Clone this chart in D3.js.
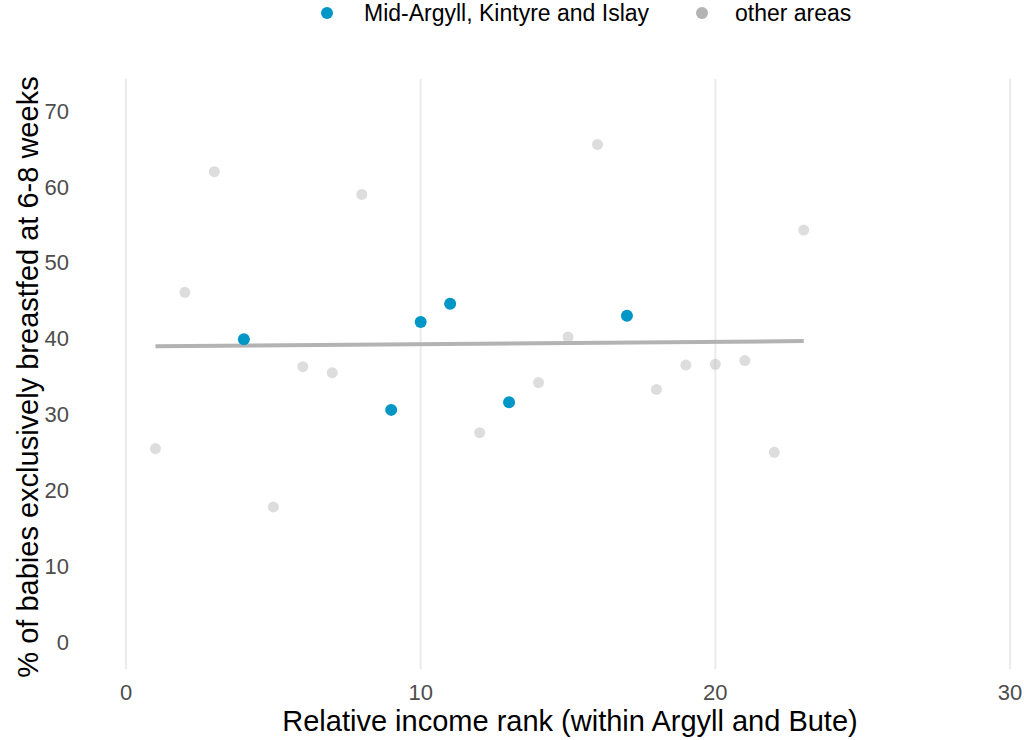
<!DOCTYPE html>
<html>
<head>
<meta charset="utf-8">
<script src="https://cdn.jsdelivr.net/npm/d3@7/dist/d3.min.js"></script>
<style>
  body { margin: 0; background: #fff; }
  text { font-family: "Liberation Sans", Arial, sans-serif; }
</style>
</head>
<body>
<svg id="chart"></svg>
<script>
// income rank of each area and % exclusively breastfed at 6-8 weeks
const ranks = [1, 2, 3, 4, 5, 6, 7, 8, 9, 10, 11, 12, 13, 14, 15, 16, 17, 18, 19, 20, 21, 22, 23];
const breastfed = [25.5, 46.1, 62.0, 39.9, 17.8, 36.3, 35.5, 59.0, 30.6, 42.2, 44.6, 27.6, 31.6, 34.2, 40.2, 65.6, 43.0, 33.3, 36.5, 36.6, 37.1, 25.0, 54.3];
const highlighted = [4, 9, 10, 11, 13, 17];   // Mid-Argyll, Kintyre and Islay
const legendLabels = ['Mid-Argyll, Kintyre and Islay', 'other areas'];
const xTicks = [0, 10, 20, 30];
const yTicks = [0, 10, 20, 30, 40, 50, 60, 70];

const width = 1024, height = 740;
const blue = '#0096c6', grey = '#b3b3b3';

const points = ranks.map((r, i) => ({ rank: r, value: breastfed[i], hi: highlighted.includes(r) }));

const svg = d3.select('#chart').attr('width', width).attr('height', height);

const x = d3.scaleLinear().domain([0, 30]).range([126, 1010]);
const y = d3.scaleLinear().domain([0, 70]).range([642, 111]);
const panelTop = 79, panelBottom = 669;

// vertical grid only
svg.append('g')
  .selectAll('line')
  .data(xTicks)
  .enter()
  .append('line')
  .attr('x1', d => x(d)).attr('x2', d => x(d))
  .attr('y1', panelTop).attr('y2', panelBottom)
  .attr('stroke', '#ebebeb')
  .attr('stroke-width', 2);

// tick labels
svg.append('g')
  .selectAll('text')
  .data(xTicks)
  .enter()
  .append('text')
  .attr('x', d => x(d))
  .attr('y', 700)
  .attr('text-anchor', 'middle')
  .style('font-size', '22px')
  .style('fill', '#4d4d4d')
  .text(d => d);

svg.append('g')
  .selectAll('text')
  .data(yTicks)
  .enter()
  .append('text')
  .attr('x', 69)
  .attr('y', d => y(d))
  .attr('dy', '0.35em')
  .attr('text-anchor', 'end')
  .style('font-size', '22px')
  .style('fill', '#4d4d4d')
  .text(d => d);

// axis titles
svg.append('text')
  .attr('x', 570)
  .attr('y', 731)
  .attr('text-anchor', 'middle')
  .style('font-size', '29px')
  .style('fill', '#000')
  .text('Relative income rank (within Argyll and Bute)');

svg.append('text')
  .attr('transform', `translate(28, ${(panelTop + panelBottom) / 2 + 3}) rotate(-90)`)
  .attr('dy', '0.35em')
  .attr('text-anchor', 'middle')
  .style('font-size', '29px')
  .style('fill', '#000')
  .text('% of babies exclusively breastfed at 6-8 weeks');

// grey points first, then the trend line, then blue points
const others = points.filter(d => !d.hi);
svg.append('g')
  .selectAll('circle')
  .data(others)
  .enter()
  .append('circle')
  .attr('cx', d => x(d.rank))
  .attr('cy', d => y(d.value))
  .attr('r', 5.5)
  .attr('fill', grey)
  .attr('fill-opacity', 0.45);

// least squares fit over all areas
const mx = d3.mean(points, d => d.rank), my = d3.mean(points, d => d.value);
const slope = d3.sum(points, d => (d.rank - mx) * (d.value - my)) / d3.sum(points, d => (d.rank - mx) ** 2);
const xr = d3.extent(ranks);
const fit = xr.map(r => ({ rank: r, value: my + slope * (r - mx) }));

svg.append('path')
  .datum(fit)
  .attr('d', d3.line().x(d => x(d.rank)).y(d => y(d.value)))
  .attr('fill', 'none')
  .attr('stroke', grey)
  .attr('stroke-width', 4);

svg.append('g')
  .selectAll('circle')
  .data(points.filter(d => d.hi))
  .enter()
  .append('circle')
  .attr('cx', d => x(d.rank))
  .attr('cy', d => y(d.value))
  .attr('r', 6)
  .attr('fill', blue);

// legend on top
const legendX = [327, 702];
const legend = svg.append('g');
legendLabels.forEach((lab, i) => {
  legend.append('circle')
    .attr('cx', legendX[i])
    .attr('cy', 13)
    .attr('r', 6)
    .attr('fill', i === 0 ? blue : grey);
  legend.append('text')
    .attr('x', legendX[i] + (i === 0 ? 37 : 33))
    .attr('y', 13)
    .attr('dy', '0.35em')
    .style('font-size', '23px')
    .style('fill', '#000')
    .text(lab);
});
</script>
</body>
</html>
